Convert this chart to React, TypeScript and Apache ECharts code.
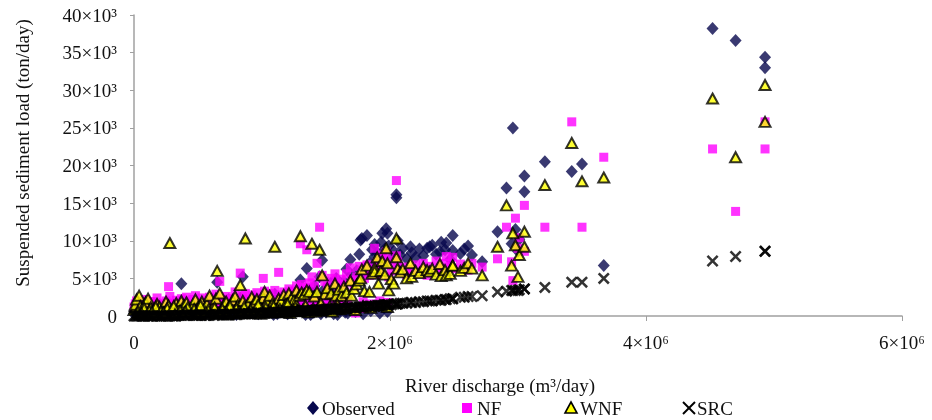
import React, { useEffect, useRef } from "react";
import * as echarts from "echarts";

// River discharge, ×10⁶ m³/day (shared by all four series)
const discharge = [
  0.00, 0.01, 0.02, 0.04, 0.05, 0.07, 0.09, 0.11, 0.13, 0.15,
  0.18, 0.20, 0.22, 0.25, 0.27, 0.28, 0.30, 0.33, 0.35, 0.37,
  0.39, 0.41, 0.44, 0.46, 0.48, 0.50, 0.53, 0.55, 0.57, 0.59,
  0.62, 0.64, 0.65, 0.67, 0.70, 0.72, 0.74, 0.77, 0.79, 0.81,
  0.83, 0.85, 0.87, 0.89, 0.92, 0.94, 0.96, 0.98, 1.01, 1.02,
  1.04, 1.06, 1.08, 1.10, 1.13, 1.15, 1.17, 1.19, 1.21, 1.23,
  1.25, 1.27, 1.29, 1.30, 1.31, 1.33, 1.35, 1.37, 1.39, 1.41,
  1.43, 1.45, 1.47, 1.49, 1.51, 1.54, 1.57, 1.58, 1.60, 1.62,
  1.64, 1.66, 1.69, 1.70, 1.72, 1.74, 1.76, 1.77, 1.78, 1.80,
  1.82, 1.84, 1.86, 1.88, 1.88, 1.90, 1.91, 1.93, 1.94, 1.96,
  1.97, 1.98, 1.99, 2.01, 2.03, 2.05, 2.05, 2.06, 2.08, 2.10,
  2.13, 2.16, 2.17, 2.20, 2.23, 2.26, 2.29, 2.31, 2.33, 2.36,
  2.39, 2.40, 2.43, 2.44, 2.47, 2.49, 2.49, 2.55, 2.58, 2.61,
  2.64, 2.72, 2.84, 2.91, 2.95, 2.96, 2.98, 3.00, 3.01, 3.05,
  3.05, 3.21, 3.42, 3.50, 3.67, 4.52, 4.70, 4.93, 4.93,
  1.05, 1.12, 1.18, 1.24, 1.32, 1.38, 1.44, 1.50, 1.56, 1.61,
  1.67, 1.73, 1.79, 1.85, 1.92, 1.98,
  0.03, 0.08, 0.12, 0.17, 0.21, 0.26, 0.31, 0.36, 0.42, 0.47,
  0.52, 0.58, 0.63, 0.69, 0.75, 0.80, 0.86, 0.91, 0.97, 1.03,
  1.09, 1.14, 1.20, 1.26, 1.34, 1.40, 1.46, 1.53, 1.59, 1.65,
  0.06, 0.14, 0.23, 0.32, 0.40, 0.49, 0.56, 0.66, 0.73, 0.82,
  0.90, 0.99, 1.07, 1.16, 1.22, 1.28, 1.36, 1.42, 1.48, 1.55,
];

// Suspended sediment load, ×10³ ton/day
const observed = [
  0.3, 0.6, 1.0, 0.5, 0.2, 0.8, 0.4, 1.2, 0.3, 0.7,
  0.5, 1.5, 0.2, 0.9, 0.6, 1.1, 0.4, 0.8, 0.3, 4.3,
  1.0, 0.5, 0.9, 1.4, 0.7, 1.2, 0.4, 1.6, 0.8, 1.3,
  0.6, 1.9, 4.5, 1.5, 0.7, 1.2, 2.2, 0.9, 1.6, 1.1,
  2.4, 5.2, 2.0, 0.8, 1.7, 1.2, 2.3, 1.0, 1.8, 2.6,
  1.4, 2.1, 1.1, 2.9, 1.6, 2.4, 1.3, 2.7, 1.8, 3.1,
  1.5, 2.5, 3.4, 4.8, 2.1, 2.8, 6.3, 3.5, 2.4, 4.0,
  3.0, 5.2, 7.4, 3.6, 2.7, 4.4, 3.3, 5.0, 3.9, 2.9,
  4.6, 6.2, 7.5, 5.4, 4.2, 6.0, 8.2, 10.1, 10.3, 5.7,
  10.7, 7.0, 8.8, 9.5, 7.9, 8.4, 6.5, 9.8, 11.0, 8.9,
  11.6, 11.0, 9.3, 7.7, 8.6, 16.1, 15.7, 10.0, 8.1, 9.0,
  7.6, 9.2, 8.4, 7.8, 8.9, 8.0, 9.0, 9.2, 9.4, 8.2,
  8.5, 9.8, 8.8, 9.7, 7.5, 10.7, 8.7, 8.3, 8.9, 9.3,
  8.1, 7.2, 11.2, 17.0, 9.6, 25.0, 11.5, 8.6, 10.2, 18.6,
  16.5, 20.5, 19.2, 20.2, 6.7, 38.2, 36.6, 33.0, 34.4,
  0.6, 0.3, 0.8, 0.4, 0.7, 0.2, 0.9, 0.5, 0.3, 0.8,
  0.4, 0.6, 0.3, 0.7, 0.4, 0.6,
  0.1, 0.4, 0.2, 0.6, 0.3, 0.5, 0.2, 0.7, 0.3, 0.5,
  0.2, 0.6, 0.4, 0.3, 0.7, 0.2, 0.5, 0.4, 0.3, 0.8,
  0.2, 0.5, 0.3, 0.6, 0.2, 0.5, 0.3, 0.7, 0.2, 0.5,
  0.9, 1.3, 0.8, 1.1, 1.4, 0.9, 1.2, 1.0, 1.5, 1.2,
  1.3, 1.1, 1.6, 1.2, 1.4, 1.0, 1.7, 1.3, 1.5, 1.2,
];

const nf = [
  1.2, 1.6, 2.0, 1.4, 1.8, 1.1, 2.2, 1.5, 1.9, 1.2,
  2.4, 1.7, 1.3, 2.0, 3.9, 2.6, 1.6, 2.1, 1.4, 2.3,
  1.8, 2.5, 1.5, 2.2, 2.7, 1.9, 2.4, 1.6, 2.1, 2.5,
  1.8, 2.9, 2.3, 4.6, 2.0, 2.6, 1.7, 2.3, 3.2, 2.0,
  5.7, 2.7, 3.0, 2.2, 2.8, 2.4, 3.1, 2.1, 5.0, 3.3,
  2.6, 3.0, 2.3, 3.4, 5.8, 2.8, 3.2, 2.5, 3.6, 2.9,
  3.3, 4.0, 3.5, 9.6, 4.2, 3.8, 8.8, 4.4, 5.2, 4.0,
  7.0, 11.8, 5.4, 4.6, 3.9, 5.0, 5.6, 4.4, 3.6, 4.9,
  4.2, 5.6, 6.4, 4.8, 3.9, 5.2, 6.6, 1.0, 6.1, 5.0,
  6.8, 5.4, 5.9, 9.0, 6.3, 7.1, 5.5, 7.6, 8.1, 6.9,
  8.5, 7.4, 5.2, 6.0, 6.7, 18.0, 8.0, 7.2, 5.8, 6.5,
  5.5, 6.2, 5.9, 6.8, 5.6, 7.0, 5.4, 6.6, 6.0, 7.3,
  6.4, 5.8, 7.0, 7.9, 6.6, 7.8, 6.3, 6.9, 6.3, 6.1,
  7.0, 6.5, 7.6, 11.8, 7.2, 4.7, 13.0, 9.0, 10.4, 14.7,
  8.6, 11.8, 25.8, 11.8, 21.1, 22.2, 13.9, 25.8, 22.2,
  1.1, 1.4, 1.0, 1.3, 1.5, 1.2, 1.6, 1.4, 1.7, 1.5,
  1.8, 0.4, 1.9, 1.6, 2.0, 1.8,
  0.9, 1.3, 1.0, 1.5, 1.2, 1.7, 1.1, 1.4, 1.6, 1.2,
  1.8, 1.3, 1.5, 1.9, 1.4, 1.6, 1.8, 1.3, 2.0, 1.5,
  1.7, 1.9, 1.4, 2.1, 1.6, 1.8, 2.0, 1.5, 1.7, 1.9,
  1.5, 1.9, 1.2, 1.7, 2.0, 1.4, 1.8, 1.6, 2.2, 1.9,
  1.5, 2.1, 1.7, 2.3, 1.8, 2.0, 2.4, 1.9, 2.2, 2.1,
];

const wnf = [
  0.8, 1.5, 2.2, 2.7, 1.3, 0.9, 1.8, 2.3, 1.1, 0.6,
  1.6, 1.2, 0.7, 1.9, 1.4, 9.7, 0.9, 1.7, 1.1, 2.0,
  1.4, 1.8, 0.8, 1.5, 2.2, 1.2, 1.9, 1.0, 1.6, 2.7,
  1.3, 2.3, 6.0, 3.0, 1.5, 1.9, 1.2, 2.1, 2.6, 1.4,
  4.1, 2.0, 10.3, 1.6, 2.5, 1.8, 2.2, 1.5, 2.4, 3.2,
  1.9, 2.7, 1.6, 9.2, 2.3, 2.0, 2.8, 1.7, 3.0, 2.4,
  2.1, 3.4, 2.7, 10.6, 3.1, 2.9, 3.4, 3.2, 9.6, 2.6,
  3.2, 8.8, 5.4, 2.9, 3.7, 3.0, 4.3, 2.7, 3.5, 2.7,
  3.9, 3.1, 4.7, 2.7, 3.6, 4.2, 4.7, 5.0, 6.2, 3.3,
  6.7, 3.2, 5.6, 6.4, 5.9, 7.8, 4.3, 6.0, 7.3, 5.5,
  9.0, 7.0, 3.4, 4.9, 4.3, 10.3, 7.8, 6.3, 5.8, 6.2,
  5.0, 7.0, 5.2, 6.0, 5.7, 6.5, 6.1, 5.9, 6.3, 5.5,
  6.9, 5.3, 6.1, 5.4, 5.6, 6.7, 6.7, 6.0, 6.4, 7.0,
  6.3, 5.4, 9.2, 14.7, 6.7, 11.0, 9.4, 5.2, 8.1, 11.2,
  9.2, 17.4, 23.0, 17.9, 18.4, 28.9, 21.1, 25.8, 30.7,
  0.7, 0.9, 0.5, 1.0, 0.8, 0.6, 1.1, 0.7, 1.2, 0.9,
  1.0, 0.8, 1.3, 1.1, 1.4, 1.2,
  0.5, 1.0, 0.7, 1.2, 0.6, 1.0, 1.3, 0.7, 1.1, 0.9,
  1.4, 0.8, 1.1, 0.9, 1.3, 1.0, 1.2, 0.8, 1.5, 1.1,
  1.3, 0.9, 1.6, 1.2, 1.4, 1.0, 1.7, 1.3, 1.5, 1.2,
  0.3, 0.5, 0.4, 0.2, 0.6, 0.3, 0.5, 0.4, 0.2, 0.6,
  0.4, 0.3, 0.5, 0.6, 0.4, 0.7, 0.5, 0.6, 0.8, 0.6,
];

const src = [
  0.0, 0.0, 0.0, 0.0, 0.0, 0.0, 0.0, 0.0, 0.0, 0.0,
  0.0, 0.0, 0.0, 0.0, 0.0, 0.0, 0.0, 0.0, 0.1, 0.1,
  0.1, 0.1, 0.1, 0.1, 0.1, 0.1, 0.1, 0.1, 0.1, 0.1,
  0.1, 0.2, 0.2, 0.2, 0.2, 0.2, 0.2, 0.2, 0.2, 0.2,
  0.3, 0.3, 0.3, 0.3, 0.3, 0.3, 0.3, 0.4, 0.4, 0.4,
  0.4, 0.4, 0.4, 0.5, 0.5, 0.5, 0.5, 0.5, 0.6, 0.6,
  0.6, 0.6, 0.6, 0.6, 0.6, 0.7, 0.7, 0.7, 0.7, 0.7,
  0.8, 0.8, 0.8, 0.8, 0.9, 0.9, 0.9, 0.9, 1.0, 1.0,
  1.0, 1.0, 1.1, 1.1, 1.1, 1.1, 1.2, 1.2, 1.2, 1.2,
  1.3, 1.3, 1.3, 1.3, 1.3, 1.4, 1.4, 1.4, 1.4, 1.5,
  1.5, 1.5, 1.5, 1.5, 1.6, 1.6, 1.6, 1.6, 1.7, 1.7,
  1.7, 1.8, 1.8, 1.8, 1.9, 1.9, 2.0, 2.0, 2.0, 2.1,
  2.1, 2.1, 2.2, 2.2, 2.3, 2.3, 2.3, 2.5, 2.5, 2.6,
  2.6, 2.7, 3.2, 3.3, 3.4, 3.4, 3.4, 3.4, 3.5, 3.6,
  3.6, 3.8, 4.5, 4.5, 5.0, 7.3, 7.9, 8.6, 8.6,
  0.4, 0.5, 0.5, 0.6, 0.7, 0.7, 0.8, 0.9, 0.9, 1.0,
  1.1, 1.1, 1.2, 1.3, 1.4, 1.5,
  0.0, 0.0, 0.0, 0.0, 0.0, 0.0, 0.0, 0.1, 0.1, 0.1,
  0.1, 0.1, 0.1, 0.2, 0.2, 0.2, 0.3, 0.3, 0.4, 0.4,
  0.4, 0.5, 0.5, 0.6, 0.7, 0.7, 0.8, 0.9, 0.9, 1.0,
  0.0, 0.0, 0.0, 0.0, 0.1, 0.1, 0.1, 0.2, 0.2, 0.3,
  0.3, 0.4, 0.4, 0.5, 0.6, 0.6, 0.7, 0.8, 0.8, 0.9,
];

const seriesNames = ["Observed", "NF", "WNF", "SRC"];
const xTitle = "River discharge (m³/day)";
const yTitle = "Suspended sediment load (ton/day)";

const FONT = "'Liberation Serif', 'Times New Roman', serif";
const TEXT = "#111111";
const AXIS = "#a0a0a0";
const NAVY = "#07084e";
const MAGENTA = "#ff00ff";
const YELLOW = "#ffff00";

export default function App() {
  const ref = useRef<HTMLDivElement>(null);

  useEffect(() => {
    if (!ref.current) return;
    const chart = echarts.init(ref.current, null, { renderer: "svg" });
    const toPts = (vals: number[]) =>
      discharge.map((q, i) => [q * 1e6, vals[i] * 1e3]);
    const xSym =
      "path://M0,1.8L1.8,0L6,4.2L10.2,0L12,1.8L7.8,6L12,10.2L10.2,12L6,7.8L1.8,12L0,10.2L4.2,6Z";

    const legendY = 408;
    const legendFont = `19px ${FONT}`;

    chart.setOption({
      animation: false,
      grid: { left: 134, right: 30, top: 15, bottom: 104 },
      xAxis: {
        type: "value",
        min: 0,
        max: 6e6,
        interval: 2e6,
        splitLine: { show: false },
        axisLine: { show: true, lineStyle: { color: AXIS, width: 1.5 } },
        axisTick: { show: true, length: 5, lineStyle: { color: AXIS } },
        axisLabel: {
          margin: 17,
          fontFamily: FONT,
          fontSize: 19,
          color: TEXT,
          formatter: (v: number) => (v === 0 ? "0" : `${v / 1e6}×10⁶`),
        },
      },
      yAxis: {
        type: "value",
        min: 0,
        max: 40000,
        interval: 5000,
        splitLine: { show: false },
        axisLine: { show: true, lineStyle: { color: AXIS, width: 1.5 } },
        axisTick: { show: true, length: 4, lineStyle: { color: AXIS } },
        axisLabel: {
          margin: 17,
          fontFamily: FONT,
          fontSize: 19,
          color: TEXT,
          formatter: (v: number) => (v === 0 ? "0" : `${v / 1000}×10³`),
        },
      },
      series: [
        {
          name: seriesNames[0],
          type: "scatter",
          data: toPts(observed),
          symbol: "diamond",
          symbolSize: [12, 13],
          itemStyle: { color: NAVY },
        },
        {
          name: seriesNames[1],
          type: "scatter",
          data: toPts(nf),
          symbol: "rect",
          symbolSize: 9,
          itemStyle: { color: MAGENTA },
        },
        {
          name: seriesNames[2],
          type: "scatter",
          data: toPts(wnf),
          symbol: "triangle",
          symbolSize: [11, 10],
          itemStyle: { color: YELLOW, borderColor: "#000", borderWidth: 2 },
        },
        {
          name: seriesNames[3],
          type: "scatter",
          data: toPts(src),
          symbol: xSym,
          symbolSize: 12,
          itemStyle: { color: "#000" },
        },
      ],
      graphic: [
        {
          type: "text",
          x: 500,
          y: 385,
          style: {
            text: xTitle,
            font: `19px ${FONT}`,
            fill: TEXT,
            align: "center",
            verticalAlign: "middle",
          },
        },
        {
          type: "text",
          x: 22,
          y: 153,
          rotation: Math.PI / 2,
          style: {
            text: yTitle,
            font: `19px ${FONT}`,
            fill: TEXT,
            align: "center",
            verticalAlign: "middle",
          },
        },
        // legend
        {
          type: "polygon",
          shape: { points: [[313, 401], [319, 408], [313, 415], [307, 408]] },
          style: { fill: NAVY },
        },
        {
          type: "text",
          x: 322,
          y: legendY,
          style: { text: seriesNames[0], font: legendFont, fill: TEXT, align: "left", verticalAlign: "middle" },
        },
        {
          type: "rect",
          shape: { x: 462, y: 403, width: 10, height: 10 },
          style: { fill: MAGENTA },
        },
        {
          type: "text",
          x: 477,
          y: legendY,
          style: { text: seriesNames[1], font: legendFont, fill: TEXT, align: "left", verticalAlign: "middle" },
        },
        {
          type: "polygon",
          shape: { points: [[571, 402], [577, 413], [565, 413]] },
          style: { fill: YELLOW, stroke: "#000", lineWidth: 1.6 },
        },
        {
          type: "text",
          x: 580,
          y: legendY,
          style: { text: seriesNames[2], font: legendFont, fill: TEXT, align: "left", verticalAlign: "middle" },
        },
        {
          type: "line",
          shape: { x1: 683, y1: 402, x2: 695, y2: 414 },
          style: { stroke: "#000", lineWidth: 2 },
        },
        {
          type: "line",
          shape: { x1: 695, y1: 402, x2: 683, y2: 414 },
          style: { stroke: "#000", lineWidth: 2 },
        },
        {
          type: "text",
          x: 697,
          y: legendY,
          style: { text: seriesNames[3], font: legendFont, fill: TEXT, align: "left", verticalAlign: "middle" },
        },
      ],
    });

    return () => chart.dispose();
  }, []);

  return (
    <div
      ref={ref}
      style={{ position: "fixed", left: 0, top: 0, width: 932, height: 420 }}
    />
  );
}
